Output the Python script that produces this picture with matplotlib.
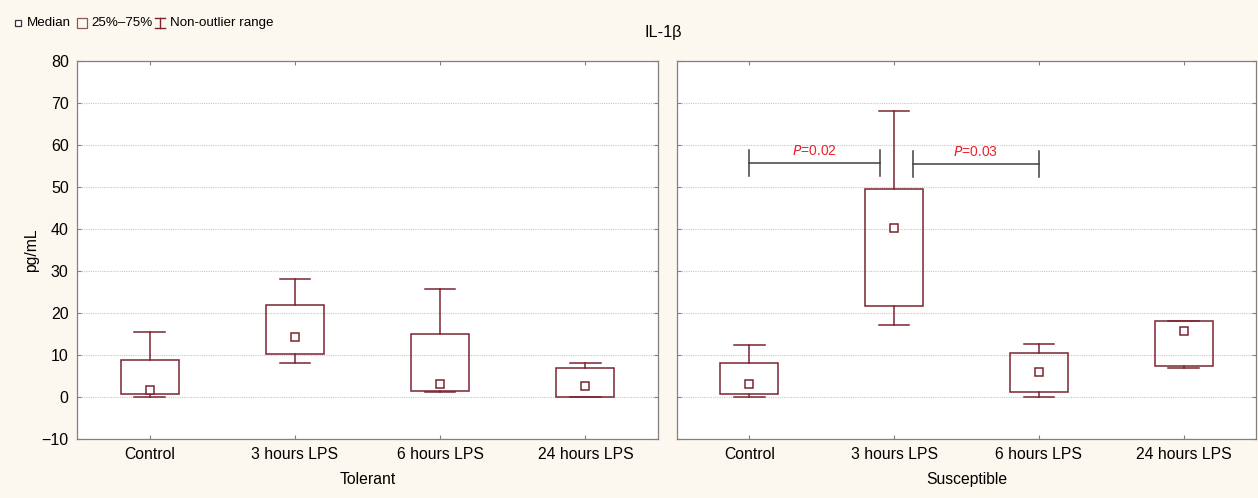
import matplotlib
matplotlib.use("Agg")
import matplotlib.pyplot as plt
from matplotlib import font_manager as fm
from matplotlib.patches import Rectangle

fm.fontManager.ttflist = [f for f in fm.fontManager.ttflist
                          if "narrow" not in f.fname.lower()]
plt.rcParams['font.family'] = ['Liberation Sans', 'DejaVu Sans']

categories = ["Control", "3 hours LPS", "6 hours LPS", "24 hours LPS"]
groups = ["Tolerant", "Susceptible"]

# per group: whisker low, q1, median, q3, whisker high
tol_wlo = [0.0, 8.2, 1.3, 0.0]
tol_q1 = [0.6, 10.2, 1.4, 0.0]
tol_med = [1.7, 14.2, 3.1, 2.6]
tol_q3 = [8.8, 22.0, 15.0, 7.0]
tol_whi = [15.5, 28.0, 25.8, 8.1]

sus_wlo = [0.0, 17.1, 0.0, 7.0]
sus_q1 = [0.6, 21.7, 1.1, 7.3]
sus_med = [3.0, 40.2, 6.0, 15.7]
sus_q3 = [8.1, 49.5, 10.4, 18.2]
sus_whi = [12.4, 68.2, 12.7, 18.2]

# significance brackets on Susceptible panel
sig_from = [0, 1]
sig_to = [1, 2]
sig_y = [55.6, 55.4]
sig_p = ["0.02", "0.03"]

ylim = (-10, 80)
yticks = list(range(-10, 81, 10))

BOX = "#7b2431"
BG = "#fdf8ef"
SPINE = "#808080"

W, H = 1258, 498
fig = plt.figure(figsize=(W / 100, H / 100), dpi=100, facecolor=BG)

def px(x0, y0, x1, y1):
    return [x0 / W, 1 - y1 / H, (x1 - x0) / W, (y1 - y0) / H]

axL = fig.add_axes(px(77, 61, 658, 439))
axR = fig.add_axes(px(677, 61, 1256, 439))

def draw(ax, wlo, q1, med, q3, whi):
    bw = 0.40
    cw = 0.21
    for i in range(len(categories)):
        ax.add_patch(Rectangle((i - bw / 2, q1[i]), bw, q3[i] - q1[i],
                               fill=False, edgecolor=BOX, lw=1.1, zorder=3))
        if whi[i] > q3[i]:
            ax.plot([i, i], [q3[i], whi[i]], color=BOX, lw=1.1, zorder=3)
        ax.plot([i - cw / 2, i + cw / 2], [whi[i], whi[i]], color=BOX, lw=1.1, zorder=3)
        if wlo[i] < q1[i]:
            ax.plot([i, i], [wlo[i], q1[i]], color=BOX, lw=1.1, zorder=3)
        ax.plot([i - cw / 2, i + cw / 2], [wlo[i], wlo[i]], color=BOX, lw=1.1, zorder=3)
        ax.plot([i], [med[i]], marker="s", ms=5.5, mfc="white", mec=BOX, mew=1.1,
                ls="none", zorder=4)
    ax.set_xlim(-0.5, len(categories) - 0.5)
    ax.set_ylim(*ylim)
    ax.set_yticks(yticks)
    ax.set_xticks(range(len(categories)))
    ax.set_xticklabels(categories)
    ax.yaxis.grid(True, color="#c8c8c8", ls=(0, (1, 1)), lw=0.8)
    ax.set_axisbelow(True)
    ax.tick_params(direction="in", top=True, right=True, length=3, color=SPINE,
                   labelsize=11.5, pad=6)
    ax.tick_params(axis="x", labelsize=11.3)
    for s in ax.spines.values():
        s.set_color(SPINE)
        s.set_linewidth(0.9)
    ax.set_facecolor("white")

draw(axL, tol_wlo, tol_q1, tol_med, tol_q3, tol_whi)
draw(axR, sus_wlo, sus_q1, sus_med, sus_q3, sus_whi)
axR.tick_params(labelleft=False)
axL.set_ylabel("pg/mL", fontsize=11.3, labelpad=2)
axL.set_xlabel(groups[0], fontsize=11.3, labelpad=7)
axR.set_xlabel(groups[1], fontsize=11.3, labelpad=7)

# significance brackets
for a, b, y, p in zip(sig_from, sig_to, sig_y, sig_p):
    x0 = a + 0.13 if a == 1 else a
    x1 = b - 0.1 if a == 0 else b
    axR.plot([x0, x1], [y, y], color="#404040", lw=1.1, zorder=5)
    for xx in (x0, x1):
        axR.plot([xx, xx], [y - 3.1, y + 3.1], color="#404040", lw=1.1, zorder=5)
    axR.text((x0 + x1) / 2, y + 1.2, r"$\it{P}$" + "=" + p, color="#e8242c",
             ha="center", va="bottom", fontsize=10)

fig.text(663 / W, 1 - 32 / H, "IL-1β", ha="center", va="center", fontsize=11.8)

# legend drawn in figure pixel coordinates
leg = fig.add_axes([0, 0, 1, 1], facecolor="none")
leg.set_xlim(0, W)
leg.set_ylim(H, 0)
leg.axis("off")
leg.plot([17.5], [23], marker="s", ms=4.5, mfc="white", mec="#333333", mew=0.9, ls="none")
leg.text(27, 23, "Median", va="center", ha="left", fontsize=9.6)
leg.add_patch(Rectangle((77, 18), 10, 10, fill=False, edgecolor="#8a5a5a", lw=0.9))
leg.text(91, 23, "25%–75%", va="center", ha="left", fontsize=9.6)
leg.plot([160, 160], [18, 28], color=BOX, lw=1.0)
leg.plot([155, 165], [18, 18], color=BOX, lw=1.0)
leg.plot([155, 165], [28, 28], color=BOX, lw=1.0)
leg.text(170, 23, "Non-outlier range", va="center", ha="left", fontsize=9.6)

fig.savefig("out.png", dpi=100, facecolor=BG)
